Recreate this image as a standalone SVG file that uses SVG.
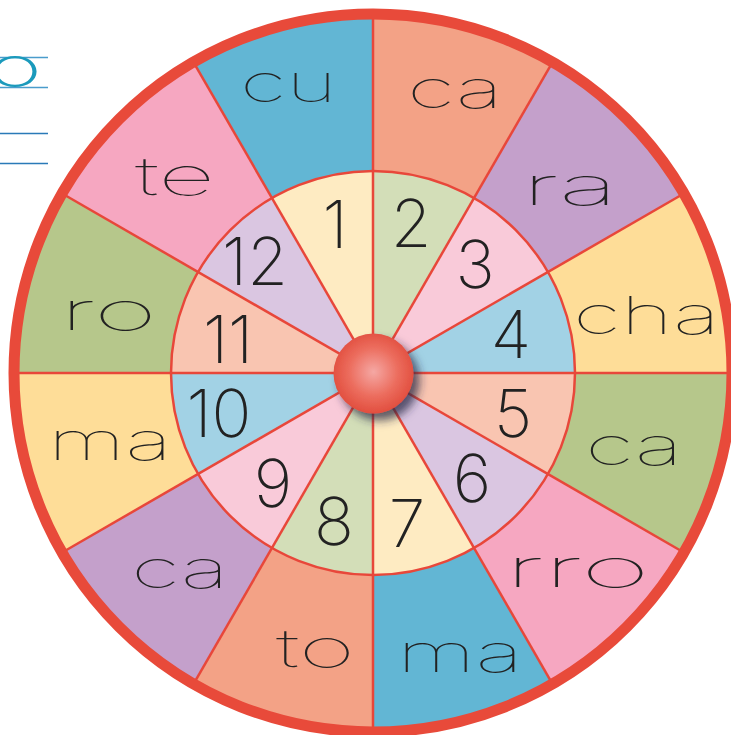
<svg xmlns="http://www.w3.org/2000/svg" width="731" height="735" viewBox="0 0 731 735">
<style>
.syl{font-family:Inter,Lato,"DejaVu Sans","Liberation Sans",sans-serif;font-weight:100;font-size:52px;fill:#222;}
.num{font-family:Inter,Lato,"DejaVu Sans","Liberation Sans",sans-serif;font-weight:200;font-size:66px;fill:#222;text-anchor:middle;}
.div{stroke:#e8473a;stroke-width:2.5;fill:none;}
.blue{fill:#62b6d4}.salmon{fill:#f3a286}.purple{fill:#c4a0cb}.yellow{fill:#fedd98}.green{fill:#b6c78b}.pink{fill:#f6a7c1}
.lyellow{fill:#feebc2}.lgreen{fill:#d3deb8}.lpink{fill:#f9cad9}.lblue{fill:#a2d2e5}.lsalmon{fill:#f9c5b1}.lpurple{fill:#dac6e1}
.guide{stroke:#4a9ccc;stroke-width:1.5}
</style>
<defs>
<radialGradient id="knobGrad" cx="50%" cy="48%" r="55%">
<stop offset="0" stop-color="#f5a8a4"/>
<stop offset="0.55" stop-color="#ec6d5e"/>
<stop offset="1" stop-color="#e04a3a"/>
</radialGradient>
<filter id="shadow" x="-40%" y="-40%" width="190%" height="190%">
<feDropShadow dx="6" dy="7" stdDeviation="5" flood-color="#2a2a44" flood-opacity="0.75"/>
</filter>
</defs>
<rect width="731" height="735" fill="#ffffff"/>

<g id="margin-guides">
<line class="guide" x1="0" y1="57.5" x2="48" y2="57.5"/>
<line class="guide" x1="0" y1="87.5" x2="48" y2="87.5"/>
<line class="guide" x1="0" y1="133.5" x2="48" y2="133.5" style="stroke:#2a7ab8"/>
<line class="guide" x1="0" y1="163.5" x2="48" y2="163.5" style="stroke:#2a7ab8"/>
<text x="-12" y="86" textLength="54" lengthAdjust="spacingAndGlyphs" style="font-family:Inter,Lato,'DejaVu Sans',sans-serif;font-size:54px;font-weight:200;fill:#1b9abc">o</text>
</g>

<g id="outer-ring">
<g id="sector-cu"><path class="blue" d="M373,373 L192,59.5 A362,362 0 0 1 373,11 Z"/><text class="syl" x="240" y="102" textLength="97" lengthAdjust="spacingAndGlyphs">cu</text></g>
<g id="sector-ca-1"><path class="salmon" d="M373,373 L373,11 A362,362 0 0 1 554,59.5 Z"/><text class="syl" x="407" y="108" textLength="96" lengthAdjust="spacingAndGlyphs">ca</text></g>
<g id="sector-ra"><path class="purple" d="M373,373 L554,59.5 A362,362 0 0 1 686.5,192 Z"/><text class="syl" x="522" y="205" textLength="96" lengthAdjust="spacingAndGlyphs">ra</text></g>
<g id="sector-cha"><path class="yellow" d="M373,373 L686.5,192 A362,362 0 0 1 735,373 Z"/><text class="syl" x="573" y="334" textLength="147" lengthAdjust="spacingAndGlyphs">cha</text></g>
<g id="sector-ca-2"><path class="green" d="M373,373 L735,373 A362,362 0 0 1 686.5,554 Z"/><text class="syl" x="585" y="465" textLength="98" lengthAdjust="spacingAndGlyphs">ca</text></g>
<g id="sector-rro"><path class="pink" d="M373,373 L686.5,554 A362,362 0 0 1 554,686.5 Z"/><text class="syl" x="505" y="587" textLength="145" lengthAdjust="spacingAndGlyphs">rro</text></g>
<g id="sector-ma-1"><path class="blue" d="M373,373 L554,686.5 A362,362 0 0 1 373,735 Z"/><text class="syl" x="397" y="672" textLength="126" lengthAdjust="spacingAndGlyphs">ma</text></g>
<g id="sector-to"><path class="salmon" d="M373,373 L373,735 A362,362 0 0 1 192,686.5 Z"/><text class="syl" x="276" y="667" textLength="79" lengthAdjust="spacingAndGlyphs">to</text></g>
<g id="sector-ca-3"><path class="purple" d="M373,373 L192,686.5 A362,362 0 0 1 59.5,554 Z"/><text class="syl" x="131" y="588" textLength="98" lengthAdjust="spacingAndGlyphs">ca</text></g>
<g id="sector-ma-2"><path class="yellow" d="M373,373 L59.5,554 A362,362 0 0 1 11,373 Z"/><text class="syl" x="48" y="460" textLength="124" lengthAdjust="spacingAndGlyphs">ma</text></g>
<g id="sector-ro"><path class="green" d="M373,373 L11,373 A362,362 0 0 1 59.5,192 Z"/><text class="syl" x="60" y="330" textLength="97" lengthAdjust="spacingAndGlyphs">ro</text></g>
<g id="sector-te"><path class="pink" d="M373,373 L59.5,192 A362,362 0 0 1 192,59.5 Z"/><text class="syl" x="135" y="195" textLength="80" lengthAdjust="spacingAndGlyphs">te</text></g>
</g>

<g id="inner-ring">
<g id="num-1"><path class="lyellow" d="M373,373 L272,198.06 A202,202 0 0 1 373,171 Z"/><text class="num" x="335" y="248">1</text></g>
<g id="num-2"><path class="lgreen" d="M373,373 L373,171 A202,202 0 0 1 474,198.06 Z"/><text class="num" x="411" y="247">2</text></g>
<g id="num-3"><path class="lpink" d="M373,373 L474,198.06 A202,202 0 0 1 547.94,272 Z"/><text class="num" x="475" y="288">3</text></g>
<g id="num-4"><path class="lblue" d="M373,373 L547.94,272 A202,202 0 0 1 575,373 Z"/><text class="num" x="511" y="358">4</text></g>
<g id="num-5"><path class="lsalmon" d="M373,373 L575,373 A202,202 0 0 1 547.94,474 Z"/><text class="num" x="513" y="437">5</text></g>
<g id="num-6"><path class="lpurple" d="M373,373 L547.94,474 A202,202 0 0 1 474,547.94 Z"/><text class="num" x="472" y="502">6</text></g>
<g id="num-7"><path class="lyellow" d="M373,373 L474,547.94 A202,202 0 0 1 373,575 Z"/><text class="num" x="407" y="547">7</text></g>
<g id="num-8"><path class="lgreen" d="M373,373 L373,575 A202,202 0 0 1 272,547.94 Z"/><text class="num" x="334" y="545">8</text></g>
<g id="num-9"><path class="lpink" d="M373,373 L272,547.94 A202,202 0 0 1 198.06,474 Z"/><text class="num" x="273" y="507">9</text></g>
<g id="num-10"><path class="lblue" d="M373,373 L198.06,474 A202,202 0 0 1 171,373 Z"/><text class="num" x="219" y="437">10</text></g>
<g id="num-11"><path class="lsalmon" d="M373,373 L171,373 A202,202 0 0 1 198.06,272 Z"/><text class="num" x="228" y="363">11</text></g>
<g id="num-12"><path class="lpurple" d="M373,373 L198.06,272 A202,202 0 0 1 272,198.06 Z"/><text class="num" x="255" y="285">12</text></g>
</g>

<g id="dividers">
<line class="div" x1="373" y1="11" x2="373" y2="735"/>
<line class="div" x1="11" y1="373" x2="735" y2="373"/>
<line class="div" x1="554" y1="59.5" x2="192" y2="686.5"/>
<line class="div" x1="686.5" y1="192" x2="59.5" y2="554"/>
<line class="div" x1="686.5" y1="554" x2="59.5" y2="192"/>
<line class="div" x1="554" y1="686.5" x2="192" y2="59.5"/>
<circle class="div" cx="373" cy="373" r="202"/>
</g>

<g id="rim">
<circle cx="373" cy="373" r="359" fill="none" stroke="#e84a3a" stroke-width="11"/>
</g>

<g id="knob">
<circle cx="373.5" cy="373.5" r="40" fill="url(#knobGrad)" filter="url(#shadow)"/>
</g>
</svg>
